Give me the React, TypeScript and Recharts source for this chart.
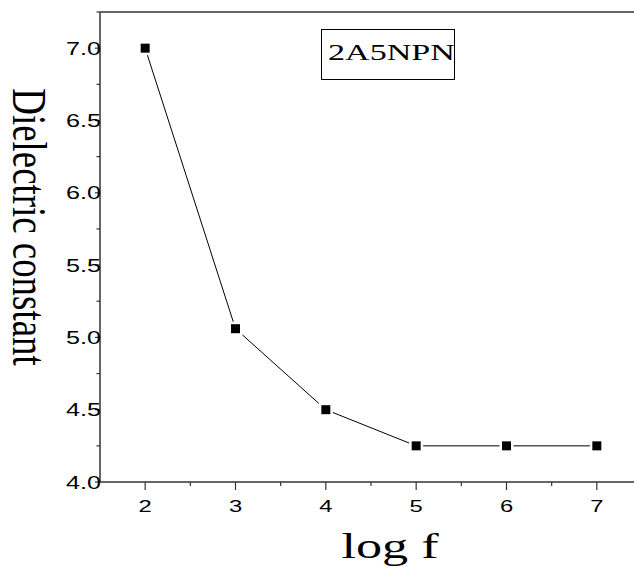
import React from 'react';
import { LineChart, Line, XAxis, YAxis, ReferenceLine, Label } from 'recharts';

// values
const logF = [2, 3, 4, 5, 6, 7];
const dielectric = [7.0, 5.06, 4.5, 4.25, 4.25, 4.25];

const xTicks = [2, 2.5, 3, 3.5, 4, 4.5, 5, 5.5, 6, 6.5, 7];
const yTicks = [4, 4.25, 4.5, 4.75, 5, 5.25, 5.5, 5.75, 6, 6.25, 6.5, 6.75, 7, 7.25];

const sampleName = '2A5NPN';
const xTitle = 'log f';
const yTitle = 'Dielectric constant';

const axisColor = '#333';
const stretch = 1.4;

const XTick = (props: any) => {
  const { x, y, payload } = props;
  const major = Number.isInteger(payload.value);
  return (
    <g>
      <line x1={x} x2={x} y1={y} y2={y + (major ? 8 : 4)} stroke={axisColor} strokeWidth={1.2} />
      {major && (
        <text transform={`translate(${x},${y + 30}) scale(${stretch},1)`} textAnchor="middle"
          fontFamily="Liberation Sans, Arial" fontSize={17} fill="#000">
          {payload.value}
        </text>
      )}
    </g>
  );
};

const YTick = (props: any) => {
  const { x, y, payload } = props;
  const major = Math.abs(payload.value * 2 - Math.round(payload.value * 2)) < 1e-6;
  return (
    <g>
      <line x1={x - (major ? 5 : 3.5)} x2={x} y1={y} y2={y} stroke={axisColor} strokeWidth={1.2} />
      {major && (
        <text transform={`translate(${x + 1},${y + 6.5}) scale(${stretch},1)`} textAnchor="end"
          fontFamily="Liberation Sans, Arial" fontSize={18} fill="#000">
          {payload.value.toFixed(1)}
        </text>
      )}
    </g>
  );
};

const SquareDot = (props: any) => {
  const { cx, cy, index } = props;
  return (
    <g key={`dot-${index}`}>
      <rect x={cx - 7} y={cy - 7} width={14} height={14} fill="#fff" />
      <rect x={cx - 4.5} y={cy - 4.5} width={9} height={9} fill="#000" />
    </g>
  );
};

const data = logF.map((f, i) => ({ f, eps: dielectric[i] }));

export default function App() {
  return (
    <div style={{ position: 'absolute', left: 0, top: 0, width: 634, height: 567, overflow: 'hidden', background: '#fff' }}>
      <LineChart width={660} height={567} data={data} margin={{ top: 12, right: 18, left: 0, bottom: 0 }}>
        <XAxis dataKey="f" type="number" domain={[1.5, 7.5]} ticks={xTicks} interval={0}
          height={85} tickSize={0} tickMargin={0} tickLine={false} tick={<XTick />}
          axisLine={{ stroke: axisColor, strokeWidth: 1.5 }}>
          <Label content={() => (
            <text transform={`translate(390,558) scale(1.45,1)`} textAnchor="middle"
              fontFamily="Liberation Serif, Times New Roman" fontSize={36} fill="#000">{xTitle}</text>
          )} />
        </XAxis>
        <YAxis type="number" domain={[4, 7.25]} ticks={yTicks} interval={0} width={100}
          tickSize={0} tickMargin={0} tickLine={false} tick={<YTick />}
          axisLine={{ stroke: '#555', strokeWidth: 1.8 }}>
          <Label content={() => (
            <text transform="translate(13,227) rotate(90) scale(0.97,1.3)" textAnchor="middle"
              fontFamily="Liberation Serif, Times New Roman" fontSize={38} fill="#000">{yTitle}</text>
          )} />
        </YAxis>
        <ReferenceLine y={7.25} stroke={axisColor} strokeWidth={1.5} />
        <Line type="linear" dataKey="eps" stroke="#000" strokeWidth={1} dot={<SquareDot />}
          activeDot={false} isAnimationActive={false} />
      </LineChart>
      <div style={{ position: 'absolute', left: 321, top: 29, width: 134, height: 51, boxSizing: 'border-box',
        border: '1px solid #000', overflow: 'visible' }}>
        <span style={{ position: 'absolute', left: 6, top: 8, fontFamily: 'Liberation Serif, Times New Roman',
          fontSize: 24, lineHeight: '28px', whiteSpace: 'nowrap', transform: 'scaleX(1.42)', transformOrigin: 'left center' }}>
          {sampleName}
        </span>
      </div>
    </div>
  );
}
